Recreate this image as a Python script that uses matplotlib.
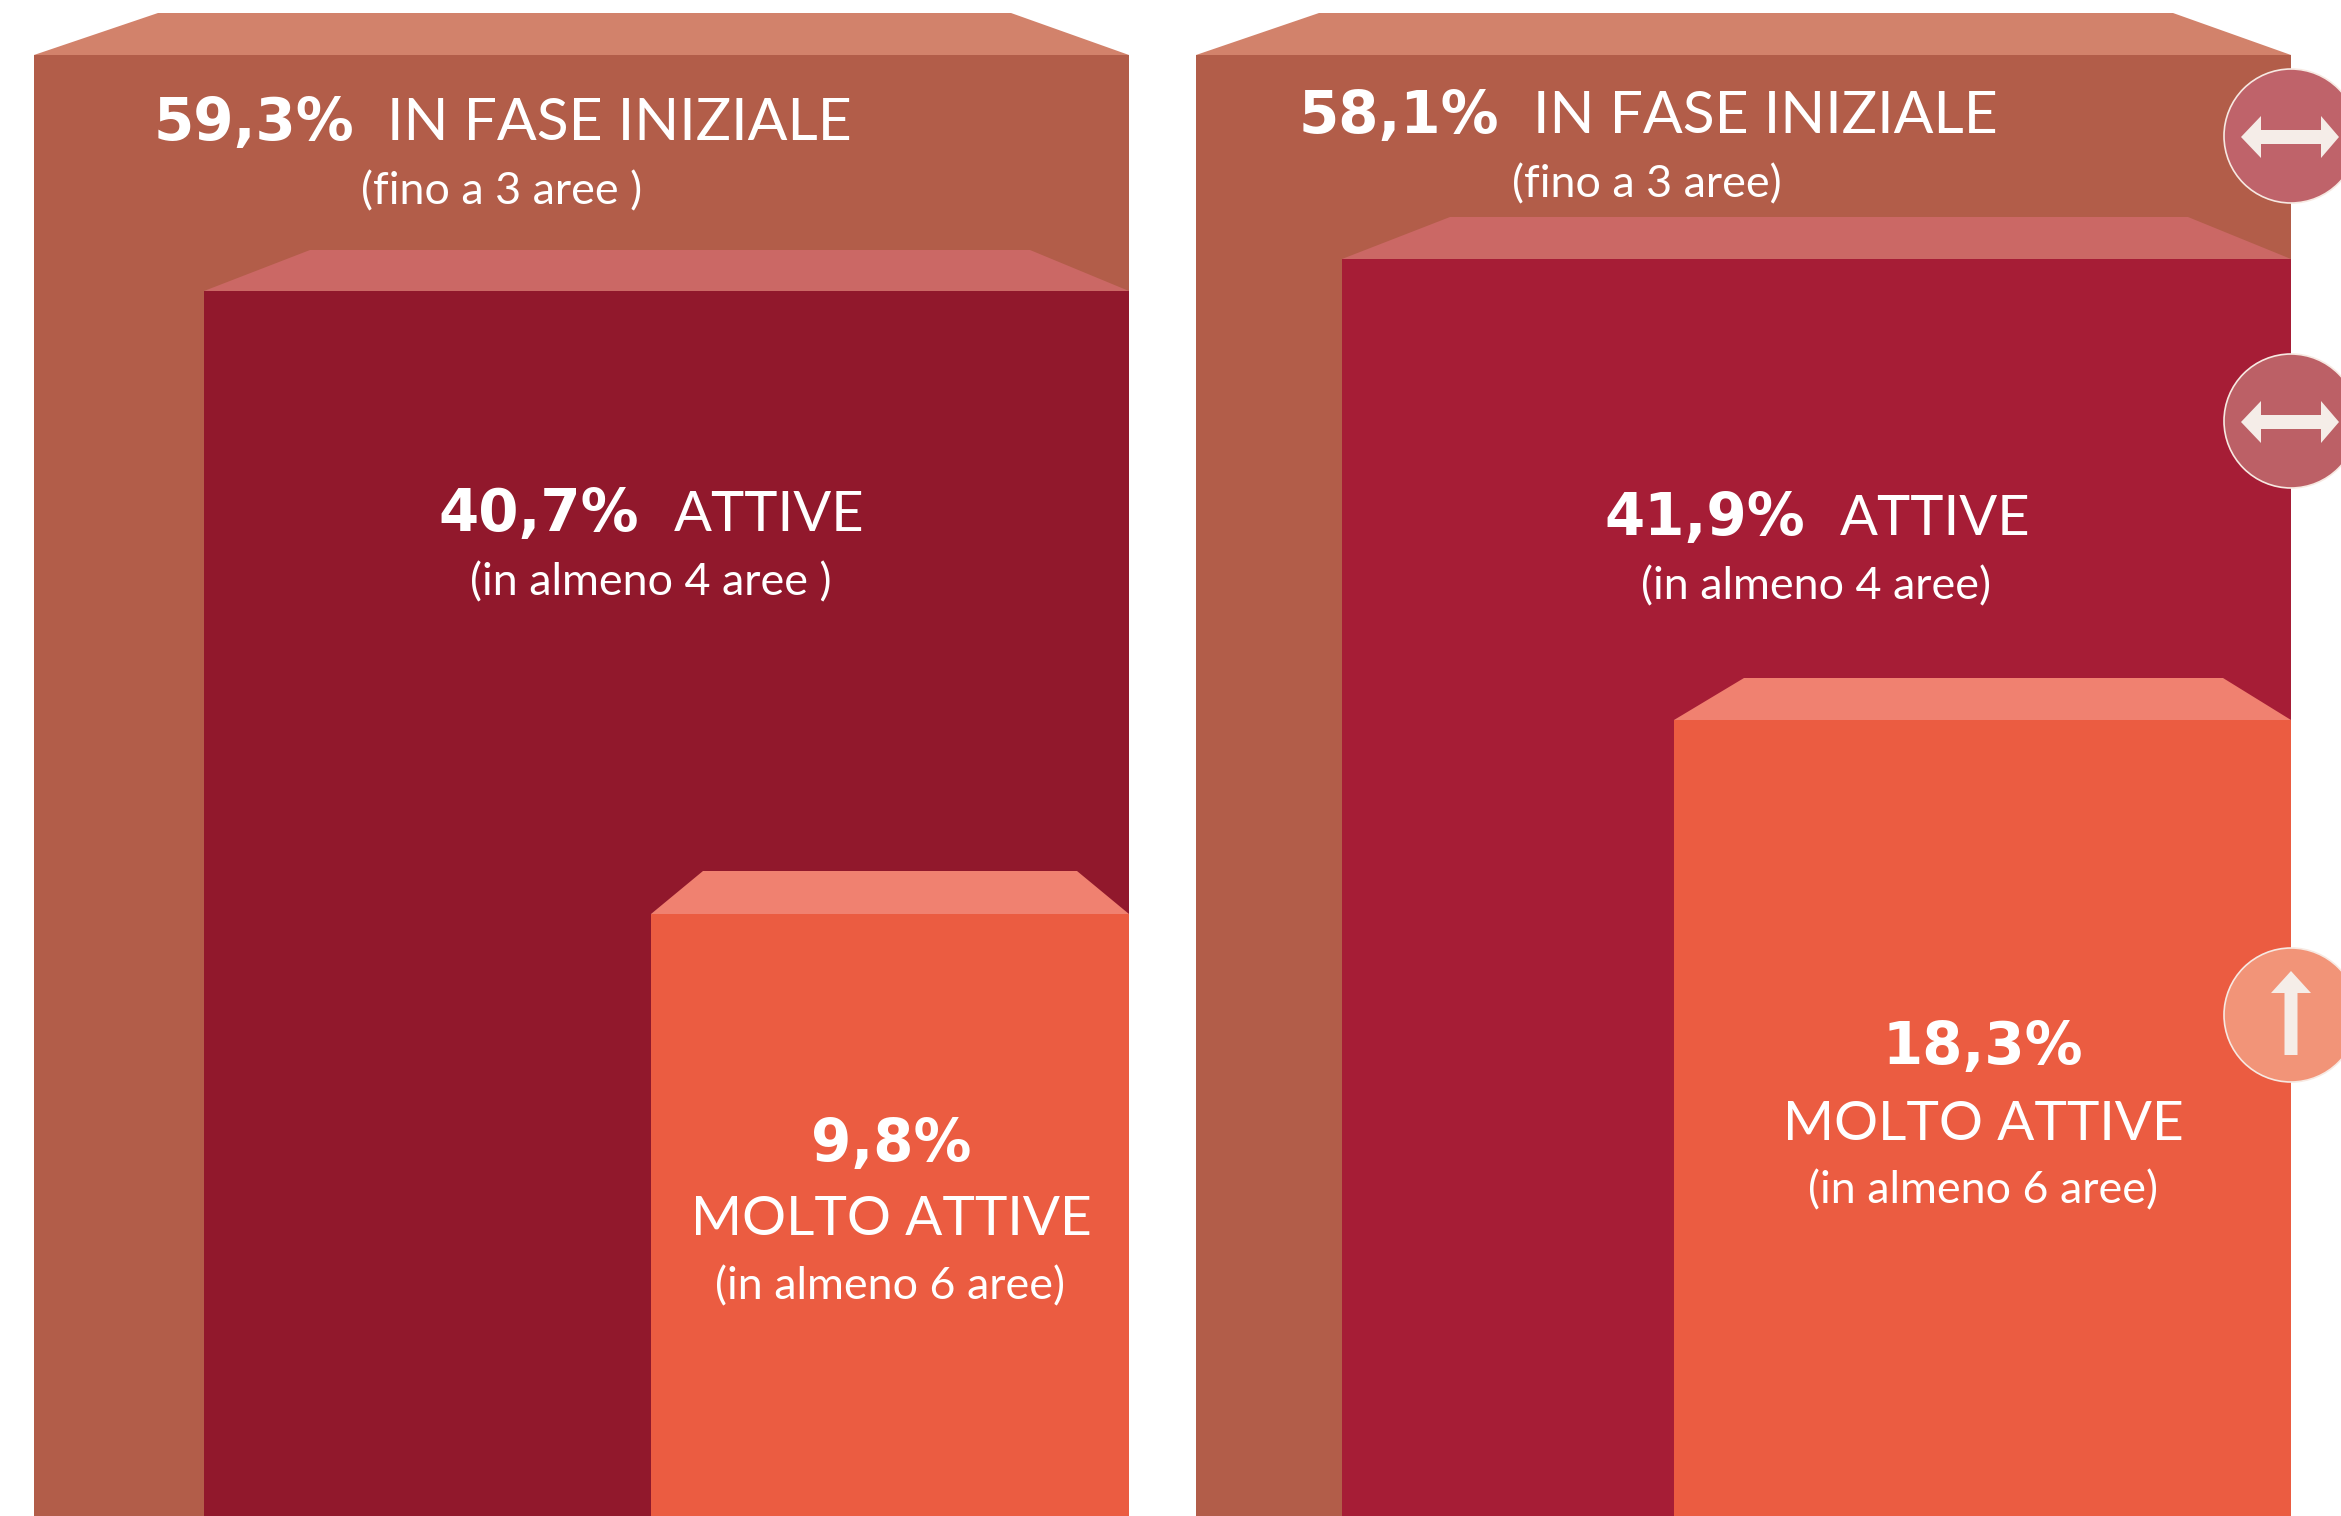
import matplotlib
matplotlib.use("Agg")
import matplotlib.pyplot as plt
from matplotlib.patches import Polygon, Circle

# ---- data ----
panels = ["left", "right"]
share_left = ["59,3%", "40,7%", "9,8%"]
share_right = ["58,1%", "41,9%", "18,3%"]
labels = ["IN FASE INIZIALE", "ATTIVE", "MOLTO ATTIVE"]
notes_left = ["(fino a 3 aree )", "(in almeno 4 aree )", "(in almeno 6 aree)"]
notes_right = ["(fino a 3 aree)", "(in almeno 4 aree)", "(in almeno 6 aree)"]

# ---- geometry, in reference pixels ----
W, H = 2341, 1516
box_x0 = {"left": [34, 204, 651], "right": [1196, 1342, 1674]}
box_x1 = {"left": [1129, 1129, 1129], "right": [2291, 2291, 2291]}
box_top = {"left": [55, 291, 914], "right": [55, 259, 720]}
bevel_top = {"left": [13, 250, 871], "right": [13, 217, 678]}
bevel_x0 = {"left": [158, 310, 703], "right": [1319, 1450, 1744]}
bevel_x1 = {"left": [1011, 1030, 1077], "right": [2173, 2188, 2223]}
box_col = {"left": ["#b25d49", "#91182c", "#eb5c41"], "right": ["#b25d49", "#a61d36", "#eb5c41"]}
bevel_col = ["#d2826b", "#cb6865", "#f08170"]

fig = plt.figure(figsize=(W / 100, H / 100), dpi=100, facecolor="white")
ax = fig.add_axes([0, 0, 1, 1])
ax.set_xlim(0, W)
ax.set_ylim(H, 0)
ax.axis("off")

for p in panels:
    for i in range(3):
        x0, x1, t = box_x0[p][i], box_x1[p][i], box_top[p][i]
        ax.bar(x0, H - t, width=x1 - x0, bottom=t, align="edge", color=box_col[p][i], linewidth=0, zorder=2 + i)
        ax.add_patch(Polygon([(x0, t), (bevel_x0[p][i], bevel_top[p][i]), (bevel_x1[p][i], bevel_top[p][i]), (x1, t)],
                             closed=True, fc=bevel_col[i], ec="none", zorder=2 + i))

# ---- trend badges ----
badge_y = [136, 421, 1015]
badge_col = ["#bf636a", "#bc6066", "#f29478"]
badge_kind = ["both", "both", "up"]
badge_x, badge_r = 2291, 67
arrow_col = "#f5ede8"
for y, c, k in zip(badge_y, badge_col, badge_kind):
    ax.add_patch(Circle((badge_x, y), badge_r, fc=c, ec="#f7e9e2", lw=1.2, zorder=8))
    if k == "both":
        yc = y + 1
        pts = [(badge_x - 50, yc), (badge_x - 30, yc - 21), (badge_x - 30, yc - 7), (badge_x + 30, yc - 7),
               (badge_x + 30, yc - 21), (badge_x + 48, yc), (badge_x + 30, yc + 21), (badge_x + 30, yc + 7),
               (badge_x - 30, yc + 7), (badge_x - 30, yc + 21)]
    else:
        pts = [(badge_x, y - 44), (badge_x + 20, y - 22), (badge_x + 6.5, y - 22), (badge_x + 6.5, y + 40),
               (badge_x - 6.5, y + 40), (badge_x - 6.5, y - 22), (badge_x - 20, y - 22)]
    ax.add_patch(Polygon(pts, closed=True, fc=arrow_col, ec="none", zorder=9))

# ---- text ----
BOLD = dict(family="DejaVu Sans", weight="bold", size=41.7, color="white", zorder=10, va="baseline")
CAPS = dict(family="Lato", weight="regular", color="white", zorder=10, va="baseline")
NOTE = dict(family="Lato", weight="regular", size=32.3, color="white", zorder=10, va="baseline", ha="center")
label_size = [42.4, 40.4, 39.6]

# inline titles: percentage + label
ax.text(154, 140, share_left[0], ha="left", **BOLD)
ax.text(387, 140, labels[0], ha="left", size=label_size[0], **CAPS)
ax.text(502, 204, notes_left[0], **NOTE)

ax.text(1299, 133, share_right[0], ha="left", **BOLD)
ax.text(1533, 133, labels[0], ha="left", size=label_size[0], **CAPS)
ax.text(1647, 197, notes_right[0], **NOTE)

ax.text(438, 531, share_left[1], ha="left", **BOLD)
ax.text(674, 531, labels[1], ha="left", size=label_size[1], **CAPS)
ax.text(651, 595, notes_left[1], **NOTE)

ax.text(1604, 535, share_right[1], ha="left", **BOLD)
ax.text(1840, 535, labels[1], ha="left", size=label_size[1], **CAPS)
ax.text(1816, 599, notes_right[1], **NOTE)

# stacked titles
ax.text(891, 1161, share_left[2], ha="center", **BOLD)
ax.text(891, 1235, labels[2], ha="center", size=label_size[2], **CAPS)
ax.text(890, 1299, notes_left[2], **NOTE)

ax.text(1983, 1064, share_right[2], ha="center", **BOLD)
ax.text(1983, 1140, labels[2], ha="center", size=label_size[2], **CAPS)
ax.text(1983, 1203, notes_right[2], **NOTE)

fig.savefig("out.png", dpi=100, facecolor="white")
